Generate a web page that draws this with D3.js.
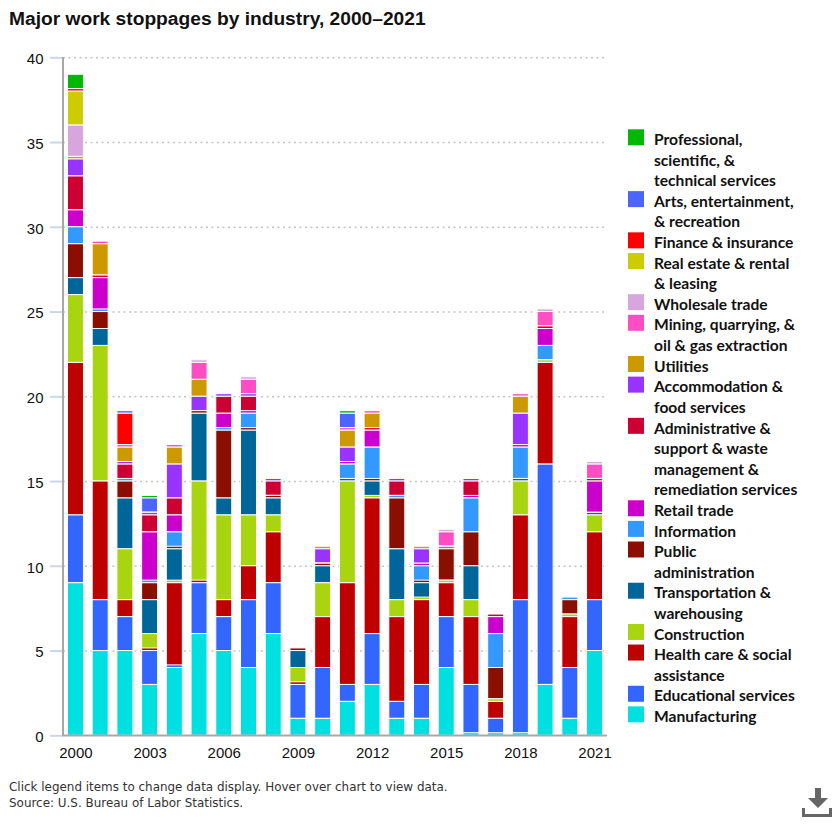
<!DOCTYPE html>
<html>
<head>
<meta charset="utf-8">
<title>Major work stoppages by industry</title>
<script src="https://cdn.jsdelivr.net/npm/d3@7"></script>
<style>
  body { margin: 0; background: #fff; }
  svg { display: block; }
  .grid line { stroke: #c4c4c4; stroke-dasharray: 2,3.5; stroke-width: 1.5; }
  .grid path, .yaxis path, .xaxis path, .xaxis line { display: none; }
  .yaxis line { stroke: #ccd6eb; stroke-width: 2; }
  .yaxis text, .xaxis text { font: 15px "Liberation Sans", Arial, sans-serif; fill: #111; }
  .legend text { font: 700 15.6px Lato, sans-serif; fill: #111; }
  .note { font: 11.95px "DejaVu Sans", sans-serif; fill: #333; }
</style>
</head>
<body>
<svg id="chart" width="840" height="826"></svg>
<script>
// Major work stoppages, count per year by industry
const years = d3.range(2000, 2022);
const yearTicks = [2000, 2003, 2006, 2009, 2012, 2015, 2018, 2021];
const yTicks = [0, 5, 10, 15, 20, 25, 30, 35, 40];

const manufacturing = [9,5,5,3,4,6,5,4,6,1,1,2,3,1,1,4,0,0,0,3,1,5];
const educational   = [4,3,2,2,0,3,2,4,3,2,3,1,3,1,2,3,3,1,8,13,3,3];
const healthCare    = [9,7,1,0,5,0,1,2,3,0,3,6,8,5,5,2,4,1,5,6,3,4];
const construction  = [4,8,3,1,0,6,5,3,1,1,2,6,0,1,0,0,1,0,2,0,0,1];
const transport     = [1,1,3,2,2,4,1,5,1,1,1,0,1,3,1,0,2,0,0,0,0,0];
const publicAdmin   = [2,1,1,1,0,0,4,0,0,0,0,0,0,3,0,2,2,2,0,0,1,0];
const information   = [1,0,0,0,1,0,0,1,0,0,0,1,2,0,1,0,2,2,2,1,0,0];
const retail        = [1,2,0,3,1,0,1,0,0,0,0,0,1,0,0,0,0,1,0,1,0,2];
const administrative= [2,0,1,1,1,0,1,1,1,0,0,0,0,1,0,0,1,0,0,0,0,0];
const accommodation = [1,0,0,0,2,1,0,0,0,0,1,1,0,0,1,0,0,0,2,0,0,0];
const utilities     = [0,2,1,0,1,1,0,0,0,0,0,1,1,0,0,0,0,0,1,0,0,0];
const mining        = [0,0,0,0,0,1,0,1,0,0,0,0,0,0,0,1,0,0,0,1,0,1];
const wholesale     = [2,0,0,0,0,0,0,0,0,0,0,0,0,0,0,0,0,0,0,0,0,0];
const realEstate    = [2,0,0,0,0,0,0,0,0,0,0,0,0,0,0,0,0,0,0,0,0,0];
const finance       = [0,0,2,0,0,0,0,0,0,0,0,0,0,0,0,0,0,0,0,0,0,0];
const arts          = [0,0,0,1,0,0,0,0,0,0,0,1,0,0,0,0,0,0,0,0,0,0];
const professional  = [1,0,0,0,0,0,0,0,0,0,0,0,0,0,0,0,0,0,0,0,0,0];

// bottom of the stack first
const seriesNames = ["manufacturing","educational","healthCare","construction","transport","publicAdmin","information","retail","administrative","accommodation","utilities","mining","wholesale","realEstate","finance","arts","professional"];
const seriesValues = [manufacturing,educational,healthCare,construction,transport,publicAdmin,information,retail,administrative,accommodation,utilities,mining,wholesale,realEstate,finance,arts,professional];
const seriesColors = ["#00e0e0","#3366ff","#bf0000","#a8d410","#006699","#8b0f00","#3399ff","#cc00cc","#cc0033","#9933ff","#cc9900","#ff4dc4","#d6a6dc","#cccc00","#ff0000","#4d65ff","#00b800"];
const seriesLabels = [
  ["Manufacturing"],
  ["Educational services"],
  ["Health care & social", "assistance"],
  ["Construction"],
  ["Transportation &", "warehousing"],
  ["Public", "administration"],
  ["Information"],
  ["Retail trade"],
  ["Administrative &", "support & waste", "management &", "remediation services"],
  ["Accommodation &", "food services"],
  ["Utilities"],
  ["Mining, quarrying, &", "oil & gas extraction"],
  ["Wholesale trade"],
  ["Real estate & rental", "& leasing"],
  ["Finance & insurance"],
  ["Arts, entertainment,", "& recreation"],
  ["Professional,", "scientific, &", "technical services"]
];

const svg = d3.select("#chart");

const x = d3.scaleBand().domain(years).range([63.1, 606.9]).paddingInner(0.353).paddingOuter(0.1765);
const y = d3.scaleLinear().domain([0, 40]).range([735.3, 57.3]);

// title
svg.append("text").attr("x", 9).attr("y", 25)
  .style("font", "bold 19.2px 'Liberation Sans', Arial, sans-serif").style("fill", "#111")
  .text("Major work stoppages by industry, 2000\u20132021");

// gridlines
svg.append("g").attr("class", "grid").attr("transform", "translate(63,0)")
  .call(d3.axisLeft(y).tickValues(yTicks.slice(1)).tickSize(-544).tickFormat(""));

// axes
const yAxis = svg.append("g").attr("class", "yaxis").attr("transform", "translate(63,0)")
  .call(d3.axisLeft(y).tickValues(yTicks).tickSize(13).tickPadding(7));
yAxis.selectAll("text").attr("dy", "0.42em").attr("x", -19.5);
const xAxis = svg.append("g").attr("class", "xaxis").attr("transform", "translate(0.5,735)")
  .call(d3.axisBottom(x).tickValues(yearTicks).tickSize(0).tickPadding(12));

// stacks, zero values still get a thin sliver like the original chart
const rows = years.map((yr, i) => {
  const row = { year: yr };
  seriesNames.forEach((n, s) => { row[n] = seriesValues[s][i]; });
  return row;
});
const stacked = d3.stack().keys(seriesNames)(rows);
const minLen = 2.6;

stacked.slice().reverse().forEach(layer => {
  const color = seriesColors[layer.index];
  svg.append("g").selectAll("rect").data(layer).enter().append("rect")
    .attr("x", d => x(d.data.year))
    .attr("width", x.bandwidth())
    .attr("y", d => Math.min(y(d[1]), y(d[0]) - minLen))
    .attr("height", d => Math.max(y(d[0]) - y(d[1]), minLen))
    .attr("fill", color)
    .attr("stroke", "#fff")
    .attr("stroke-width", 1);
});

// axis lines on top of the bars' feet
svg.append("line").attr("x1", 63).attr("x2", 63).attr("y1", 57).attr("y2", 736)
  .attr("stroke", "#a8a8a8").attr("stroke-width", 2);
svg.append("line").attr("x1", 62).attr("x2", 607).attr("y1", 735.5).attr("y2", 735.5)
  .attr("stroke", "#a8a8a8").attr("stroke-width", 2);

// legend, top entry is the last series
const lineH = 20.61;
const legend = svg.append("g").attr("class", "legend");
let line = 0;
seriesLabels.map((lines, i) => ({ lines, i })).reverse().forEach(item => {
  const top = 145 + line * lineH;
  const g = legend.append("g").datum(item.i);
  g.append("rect").attr("x", 628).attr("y", top - 15.7).attr("width", 16).attr("height", 16)
    .attr("fill", seriesColors[item.i]);
  item.lines.forEach((t, k) => {
    g.append("text").attr("x", 654).attr("y", top + k * lineH).text(t);
  });
  line += item.lines.length;
});

// notes
svg.append("text").attr("class", "note").attr("x", 9).attr("y", 791)
  .text("Click legend items to change data display. Hover over chart to view data.");
svg.append("text").attr("class", "note").attr("x", 9).attr("y", 807)
  .text("Source: U.S. Bureau of Labor Statistics.");

// download icon
const icon = svg.append("g").attr("transform", "translate(802,788)").attr("fill", "#666");
icon.append("path").attr("d", "M13 0h6v10h7L16 20 6 10h7z");
icon.append("path").attr("d", "M0 20h3v6h24v-6h3v9H0z");
</script>
</body>
</html>
